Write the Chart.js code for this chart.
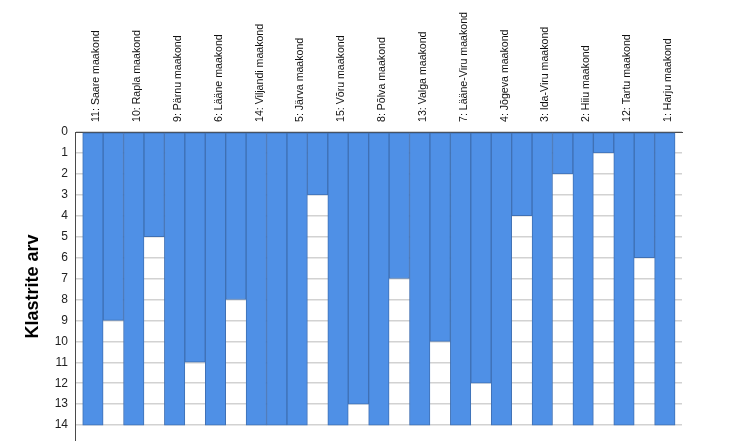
<!DOCTYPE html>
<html>
<head>
<meta charset="utf-8">
<script src="https://cdn.jsdelivr.net/npm/chart.js@4/dist/chart.umd.min.js"></script>
<style>
  html, body { margin: 0; padding: 0; background: #ffffff; }
  #c { display: block; }
</style>
</head>
<body>
<canvas id="c" width="753" height="441"></canvas>
<script>
// Cases (counties) in icicle order
const counties = [
  '11: Saare maakond', '10: Rapla maakond', '9: Pärnu maakond', '6: Lääne maakond',
  '14: Viljandi maakond', '5: Järva maakond', '15: Võru maakond', '8: Põlva maakond',
  '13: Valga maakond', '7: Lääne-Viru maakond', '4: Jõgeva maakond', '3: Ida-Viru maakond',
  '2: Hiiu maakond', '12: Tartu maakond', '1: Harju maakond'
];
// Each case column is filled through all cluster counts
const caseLevels = [14, 14, 14, 14, 14, 14, 14, 14, 14, 14, 14, 14, 14, 14, 14];
// Number of clusters down to which neighbouring cases are joined (gap columns)
const gapLevels = [9, 5, 11, 8, 14, 3, 13, 7, 10, 12, 4, 2, 1, 6];
// Y tick labels (number of clusters)
const clusterTicks = [0, 1, 2, 3, 4, 5, 6, 7, 8, 9, 10, 11, 12, 13, 14];

const points = [];
counties.forEach((name, i) => {
  points.push({ x: 2 * i, y: caseLevels[i] });
  if (i < gapLevels.length) points.push({ x: 2 * i + 1, y: gapLevels[i] });
});

const FONT = '"Liberation Sans", Arial, sans-serif';

new Chart(document.getElementById('c'), {
  type: 'bar',
  data: {
    datasets: [{
      data: points,
      backgroundColor: '#4f90e6',
      borderColor: '#3f70b4',
      borderWidth: 1,
      borderSkipped: false,
      barPercentage: 1,
      categoryPercentage: 1
    }]
  },
  options: {
    responsive: false,
    animation: false,
    events: [],
    layout: { padding: { left: 0, right: 71, top: 0, bottom: 0 } },
    plugins: { legend: { display: false }, tooltip: { enabled: false } },
    scales: {
      x: {
        type: 'linear',
        position: 'top',
        offset: false,
        min: -0.877,
        max: 28.84,
        afterBuildTicks: (scale) => {
          scale.ticks = counties.map((_, i) => ({ value: 2 * i }));
        },
        afterFit: (scale) => {
          scale.height = 132;
          scale.paddingLeft = 0; scale.paddingRight = 0;
        },
        grid: { display: false, drawTicks: false, offset: false },
        border: { display: true, color: '#4a4a4a', width: 1 },
        ticks: {
          autoSkip: false,
          minRotation: 90,
          maxRotation: 90,
          padding: 10,
          labelOffset: 16,
          color: '#111',
          font: { family: FONT, size: 10.6 },
          callback: (v) => counties[Math.round(v / 2)]
        }
      },
      y: {
        type: 'linear',
        reverse: true,
        min: 0,
        max: 14.76,
        afterBuildTicks: (scale) => {
          scale.ticks = clusterTicks.map(v => ({ value: v }));
        },
        afterFit: (scale) => {
          scale.width = 75;
          scale.paddingTop = 0; scale.paddingBottom = 0;
        },
        grid: { color: '#d2d2d2', lineWidth: 1.5, drawTicks: false },
        border: { display: true, color: '#4a4a4a', width: 1 },
        ticks: {
          padding: 7,
          color: '#222',
          font: { family: FONT, size: 12 },
          callback: (v) => String(v)
        },
        title: {
          display: true,
          text: 'Klastrite arv',
          color: '#000',
          font: { family: FONT, size: 18, weight: 'bold' },
          padding: { top: 22, bottom: 0 }
        }
      }
    }
  }
});
</script>
</body>
</html>
